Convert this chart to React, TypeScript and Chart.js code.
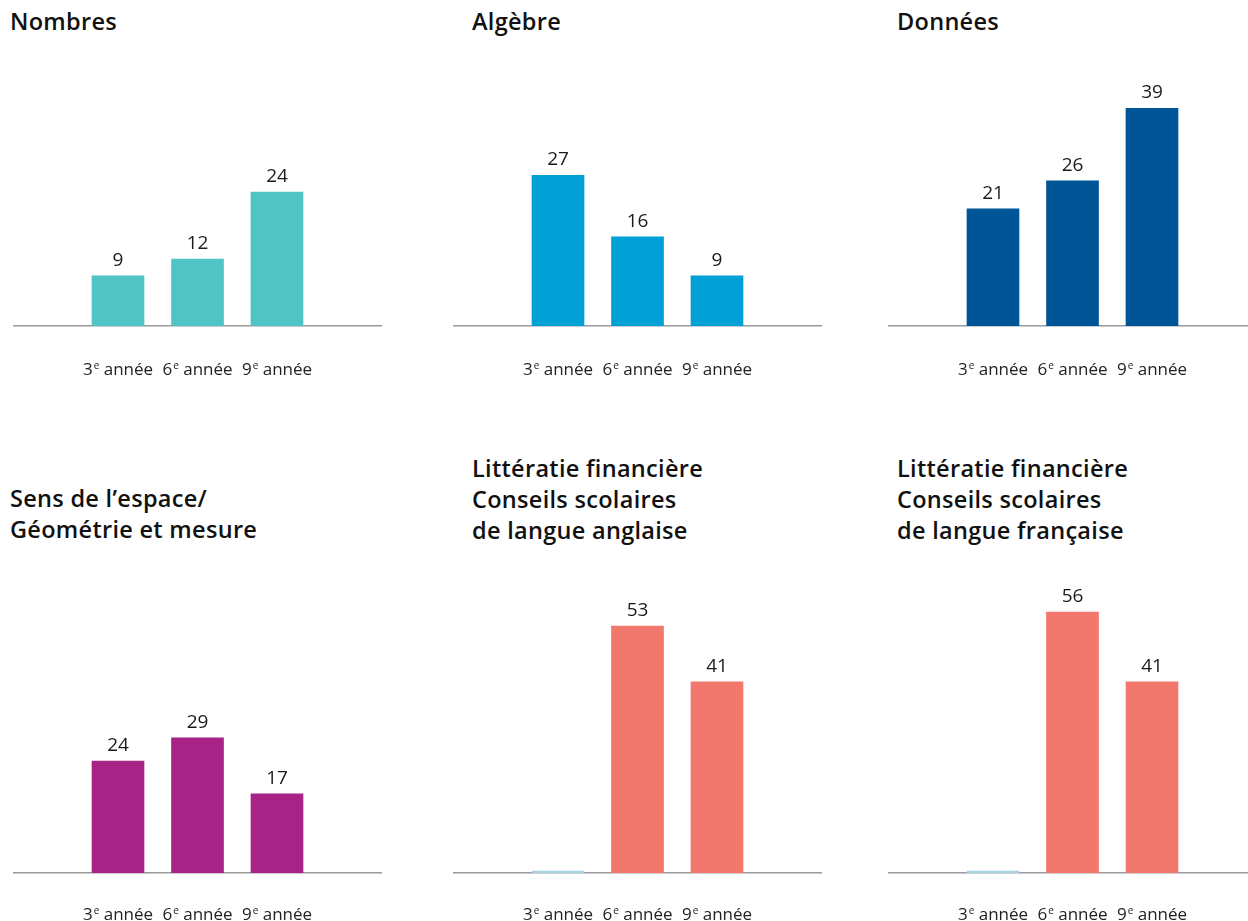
import React, { useEffect, useRef } from 'react';
import { Chart, registerables } from 'chart.js';

Chart.register(...registerables);

// ---- Data ----
const GRADE_NUMS = ['3', '6', '9'];
const GRADE_SUP = 'e';
const GRADE_WORD = 'année';

const NOMBRES = [9, 12, 24];
const ALGEBRE = [27, 16, 9];
const DONNEES = [21, 26, 39];
const ESPACE = [24, 29, 17];
const FIN_ANGLAISE = [0, 53, 41];
const FIN_FRANCAISE = [0, 56, 41];

const TITLE_NOMBRES = ['Nombres'];
const TITLE_ALGEBRE = ['Algèbre'];
const TITLE_DONNEES = ['Données'];
const TITLE_ESPACE = ['Sens de l’espace/', 'Géométrie et mesure'];
const TITLE_FIN_ANG = ['Littératie financière', 'Conseils scolaires', 'de langue anglaise'];
const TITLE_FIN_FR = ['Littératie financière', 'Conseils scolaires', 'de langue française'];

const TEAL = '#50c4c4';
const SKY = '#009fd6';
const NAVY = '#005596';
const PURPLE = '#a82386';
const SALMON = '#f2776c';
const PALE = '#a6d4e3';

// ---- Layout ----
const FAMILY = '"Open Sans", Lato, sans-serif';
const CAT_PX = 79.5; // pixel spacing between categories
const FIRST_OFFSET = 105; // px from canvas left to first bar centre
const TICK_FONT = 17;
const SUP_FONT = 10;
const VALUE_FONT = 19;
const BOTTOM_SPACE = 60;

interface RowLayout {
  canvasTop: number;
  baseline: number;
  yMax: number;
  pxPerUnit: number;
  labelDy: number;
}

const TOP_ROW: RowLayout = { canvasTop: 40, baseline: 326, yMax: 45, pxPerUnit: 5.58, labelDy: 49 };
const BOTTOM_ROW: RowLayout = { canvasTop: 560, baseline: 873, yMax: 60, pxPerUnit: 4.66, labelDy: 47 };

const valueLabels = {
  id: 'valueLabels',
  afterDatasetsDraw(chart: any) {
    const ctx = chart.ctx;
    chart.data.datasets.forEach((ds: any, di: number) => {
      const meta = chart.getDatasetMeta(di);
      meta.data.forEach((bar: any, i: number) => {
        const v = ds.data[i].y;
        if (!v) return;
        ctx.save();
        ctx.font = `${VALUE_FONT}px ${FAMILY}`;
        ctx.fillStyle = '#1a1a1a';
        ctx.textAlign = 'center';
        ctx.textBaseline = 'alphabetic';
        ctx.fillText(String(v), bar.x, bar.y - 10);
        ctx.restore();
      });
    });
  },
};

function makeGradeLabels(dy: number) {
  return {
    id: 'gradeLabels',
    afterDraw(chart: any) {
      const ctx = chart.ctx;
      const xs = chart.scales.x;
      const y = chart.scales.y.getPixelForValue(0) + dy;
      ctx.save();
      ctx.fillStyle = '#222';
      ctx.textAlign = 'left';
      ctx.textBaseline = 'alphabetic';
      GRADE_NUMS.forEach((n, i) => {
        const cx = xs.getPixelForValue(i);
        ctx.font = `${TICK_FONT}px ${FAMILY}`;
        const wn = ctx.measureText(n).width;
        const wSpace = ctx.measureText(' ').width;
        const ww = ctx.measureText(GRADE_WORD).width;
        ctx.font = `${SUP_FONT}px ${FAMILY}`;
        const ws = ctx.measureText(GRADE_SUP).width;
        const total = wn + 1 + ws + wSpace + ww;
        let x = cx - total / 2;
        ctx.font = `${TICK_FONT}px ${FAMILY}`;
        ctx.fillText(n, x, y);
        x += wn + 1;
        ctx.font = `${SUP_FONT}px ${FAMILY}`;
        ctx.fillText(GRADE_SUP, x, y - 6);
        x += ws + wSpace;
        ctx.font = `${TICK_FONT}px ${FAMILY}`;
        ctx.fillText(GRADE_WORD, x, y);
      });
      ctx.restore();
    },
  };
}

interface PanelProps {
  left: number;
  width: number;
  row: RowLayout;
  values: number[];
  colors: string[];
}

function BarPanel({ left, width, row, values, colors }: PanelProps) {
  const ref = useRef<HTMLCanvasElement>(null);
  const plotH = row.yMax * row.pxPerUnit;
  const aboveBase = row.baseline - row.canvasTop;
  const height = aboveBase + BOTTOM_SPACE;
  const padTop = aboveBase - plotH;
  const xMin = -FIRST_OFFSET / CAT_PX;
  const xMax = xMin + width / CAT_PX;

  useEffect(() => {
    if (!ref.current) return;
    const chart = new Chart(ref.current, {
      type: 'bar',
      data: {
        datasets: [
          {
            data: values.map((v, i) => ({ x: i, y: v })),
            backgroundColor: colors,
            borderWidth: 0,
            barThickness: 52,
            minBarLength: 2,
          },
        ],
      },
      options: {
        animation: false,
        responsive: false,
        maintainAspectRatio: false,
        layout: { padding: { top: padTop, bottom: BOTTOM_SPACE, left: 0, right: 0 } },
        plugins: {
          legend: { display: false },
          tooltip: { enabled: false },
        },
        scales: {
          x: {
            type: 'linear',
            min: xMin,
            max: xMax,
            offset: false,
            grid: { display: false, drawTicks: false },
            border: { display: true, color: '#9a9a9a', width: 1.5 },
            afterBuildTicks: (s: any) => {
              s.ticks = GRADE_NUMS.map((_, i) => ({ value: i }));
            },
            ticks: { display: false },
          },
          y: { display: false, min: 0, max: row.yMax },
        },
      } as any,
      plugins: [valueLabels, makeGradeLabels(row.labelDy)],
    });
    return () => chart.destroy();
  }, []);

  return (
    <canvas
      ref={ref}
      width={width}
      height={height}
      style={{ position: 'absolute', left, top: row.canvasTop, width, height }}
    />
  );
}

function Title({ left, top, lines }: { left: number; top: number; lines: string[] }) {
  return (
    <div
      style={{
        position: 'absolute',
        left,
        top,
        fontFamily: FAMILY,
        fontWeight: 600,
        fontSize: 23.5,
        letterSpacing: '0.3px',
        lineHeight: '31px',
        color: '#111',
        whiteSpace: 'nowrap',
      }}
    >
      {lines.map((l, i) => (
        <div key={i}>{l}</div>
      ))}
    </div>
  );
}

export default function App() {
  return (
    <div
      style={{
        position: 'absolute',
        left: 0,
        top: 0,
        width: 1248,
        height: 921,
        overflow: 'hidden',
        background: '#fff',
      }}
    >
      <Title left={10} top={6} lines={TITLE_NOMBRES} />
      <Title left={472} top={6} lines={TITLE_ALGEBRE} />
      <Title left={897} top={6} lines={TITLE_DONNEES} />
      <Title left={10} top={483} lines={TITLE_ESPACE} />
      <Title left={472} top={453} lines={TITLE_FIN_ANG} />
      <Title left={897} top={453} lines={TITLE_FIN_FR} />

      <BarPanel left={13} width={369} row={TOP_ROW} values={NOMBRES} colors={[TEAL, TEAL, TEAL]} />
      <BarPanel left={453} width={369} row={TOP_ROW} values={ALGEBRE} colors={[SKY, SKY, SKY]} />
      <BarPanel left={888} width={360} row={TOP_ROW} values={DONNEES} colors={[NAVY, NAVY, NAVY]} />
      <BarPanel left={13} width={369} row={BOTTOM_ROW} values={ESPACE} colors={[PURPLE, PURPLE, PURPLE]} />
      <BarPanel left={453} width={369} row={BOTTOM_ROW} values={FIN_ANGLAISE} colors={[PALE, SALMON, SALMON]} />
      <BarPanel left={888} width={360} row={BOTTOM_ROW} values={FIN_FRANCAISE} colors={[PALE, SALMON, SALMON]} />
    </div>
  );
}
